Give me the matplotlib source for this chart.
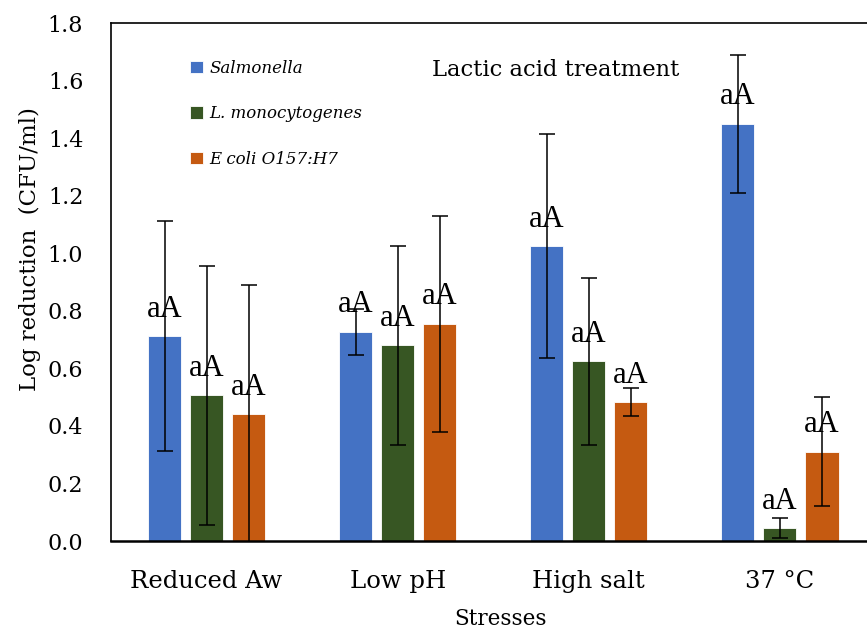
"""Log reduction after lactic acid treatment, by stress and pathogen."""
import numpy as np
import matplotlib
matplotlib.use("Agg")
import matplotlib.pyplot as plt

stresses = ["Reduced Aw", "Low pH", "High salt", "37 \u00b0C"]
series_names = ["Salmonella", "L. monocytogenes", "E coli O157:H7"]

salmonella = [0.712, 0.727, 1.025, 1.45]
listeria = [0.507, 0.68, 0.625, 0.045]
ecoli = [0.44, 0.755, 0.483, 0.31]

salmonella_err = [0.40, 0.08, 0.39, 0.24]
listeria_err = [0.45, 0.345, 0.29, 0.035]
ecoli_err = [0.45, 0.375, 0.05, 0.19]

letters = ["aA", "aA", "aA", "aA"]

yticks = [0.0, 0.2, 0.4, 0.6, 0.8, 1.0, 1.2, 1.4, 1.6, 1.8]

colors = ["#4472C4", "#375623", "#C55A11"]

serif = ["DejaVu Serif"]
times = ["Liberation Serif"]

fig = plt.figure(figsize=(8.67, 6.32), dpi=100)
ax = fig.add_axes([111 / 867, 91 / 632, 764.5 / 867, 518 / 632])

x = np.arange(len(stresses))
width = 0.173
step = 0.22
values = [salmonella, listeria, ecoli]
errors = [salmonella_err, listeria_err, ecoli_err]

for i, (vals, errs) in enumerate(zip(values, errors)):
    pos = x + (i - 1) * step
    ax.bar(pos, vals, width, color=colors[i], edgecolor="white",
           linewidth=0.6, label=series_names[i], zorder=2)
    ax.errorbar(pos, vals, yerr=errs, fmt="none", ecolor="black",
                elinewidth=1.1, capsize=5.5, capthick=1.1, zorder=3)
    for px, v in zip(pos, vals):
        ax.annotate(letters[i], (px, v), xytext=(0, 9), textcoords="offset points",
                    ha="center", va="bottom", fontsize=22, family=times, zorder=4)

ax.set_xlim(-0.5, 3.5)
ax.set_ylim(0, 1.8)
ax.set_xticks(x)
ax.set_xticklabels(stresses, family=serif, fontsize=17.5)
ax.set_yticks(yticks)
ax.set_yticklabels([f"{t:.1f}" for t in yticks], family=serif, fontsize=16)
ax.tick_params(axis="both", length=0)
ax.tick_params(axis="y", pad=20)
ax.tick_params(axis="x", pad=21)

for side in ["left", "top", "right"]:
    ax.spines[side].set_linewidth(1.2)
ax.spines["bottom"].set_linewidth(1.8)

ax.set_ylabel("Log reduction  (CFU/ml)", family=serif, fontsize=16.5)
ax.yaxis.set_label_coords(-0.091, 0.564)
ax.set_xlabel("Stresses", family=serif, fontsize=15.5)
ax.xaxis.set_label_coords(0.51, -0.13)

leg = ax.legend(loc="upper left", bbox_to_anchor=(190 / 867, 1 - 60 / 632),
                bbox_transform=fig.transFigure, frameon=False,
                prop={"family": serif, "style": "italic", "size": 12},
                handlelength=0.75, handleheight=0.75, handletextpad=0.4,
                labelspacing=1.7, borderpad=0, borderaxespad=0)

fig.text(556 / 867, 1 - 70 / 632, "Lactic acid treatment", ha="center", va="center",
         family=serif, fontsize=16.3)

fig.savefig("out.png", dpi=100)
